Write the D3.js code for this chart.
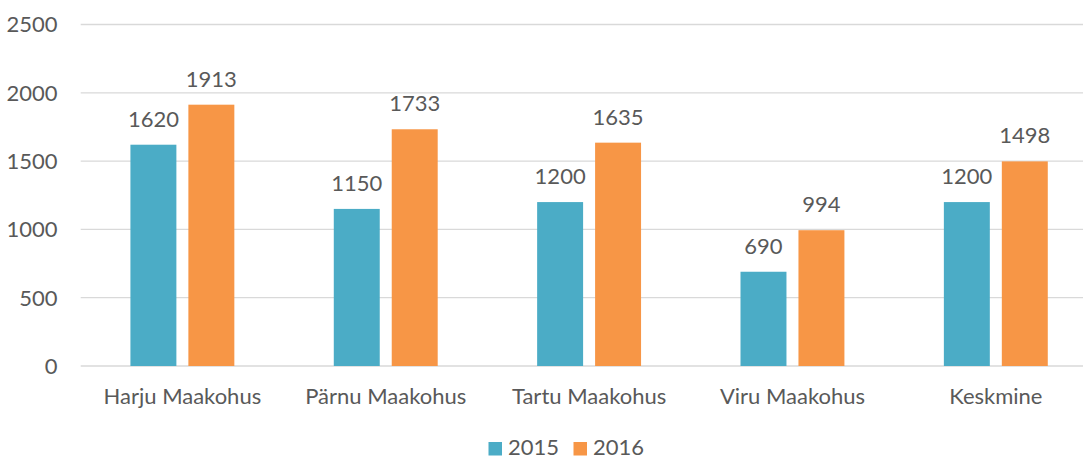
<!DOCTYPE html>
<html>
<head>
<meta charset="utf-8">
<script src="https://cdn.jsdelivr.net/npm/d3@7"></script>
<style>
  html, body { margin: 0; padding: 0; background: #fff; }
  svg { display: block; font-family: Lato, "Open Sans", sans-serif; }
</style>
</head>
<body>
<div id="chart"></div>
<script>
    // data
    var categories = ["Harju Maakohus", "Pärnu Maakohus", "Tartu Maakohus", "Viru Maakohus", "Keskmine"];
    var seriesNames = ["2015", "2016"];
    var values2015 = [1620, 1150, 1200, 690, 1200];
    var values2016 = [1913, 1733, 1635, 994, 1498];
    var yTicks = [0, 500, 1000, 1500, 2000, 2500];
    var colors = ["#4BACC6", "#F79646"];

(function () {
    'use strict';

    var width = 1083, height = 457,
        plotLeft = 80.7, plotRight = 1097.5,
        plotTop = 24.5, plotBottom = 366,
        textColor = '#595959',
        fontSize = 22;

    var rows = categories.map(function (c, i) {
        return { cat: c, vals: [values2015[i], values2016[i]] };
    });

    var svg = d3.select("#chart").append("svg")
        .attr("width", width)
        .attr("height", height);

    var y = d3.scaleLinear()
        .domain([0, 2500])
        .range([plotBottom, plotTop]);

    var x0 = d3.scaleBand()
        .domain(categories)
        .range([plotLeft, plotRight])
        .paddingInner(0.489)
        .paddingOuter(0.2445);

    var x1 = d3.scaleBand()
        .domain(seriesNames)
        .range([0, x0.bandwidth()])
        .paddingInner(0.207);

    // gridlines
    svg.append("g")
        .selectAll("line")
        .data(yTicks)
        .enter().append("line")
        .attr("x1", plotLeft)
        .attr("x2", plotRight)
        .attr("y1", function (d) { return y(d); })
        .attr("y2", function (d) { return y(d); })
        .attr("stroke", "#d9d9d9")
        .attr("stroke-width", 1.3);

    // y labels
    svg.append("g")
        .selectAll("text")
        .data(yTicks)
        .enter().append("text")
        .attr("x", 57.5)
        .attr("y", function (d) { return y(d); })
        .attr("dy", "0.36em")
        .attr("text-anchor", "end")
        .style("font-size", fontSize + "px")
        .style("fill", textColor)
        .text(function (d) { return d; });

    // bars
    var groups = svg.append("g")
        .selectAll("g")
        .data(rows)
        .enter().append("g")
        .attr("transform", function (d) { return "translate(" + x0(d.cat) + ",0)"; });

    groups.selectAll("rect")
        .data(function (d) { return d.vals.map(function (v, i) { return { s: seriesNames[i], v: v, i: i }; }); })
        .enter().append("rect")
        .attr("x", function (d) { return x1(d.s); })
        .attr("width", x1.bandwidth())
        .attr("y", function (d) { return y(d.v); })
        .attr("height", function (d) { return plotBottom - y(d.v); })
        .attr("fill", function (d) { return colors[d.i]; });

    groups.selectAll("text")
        .data(function (d) { return d.vals.map(function (v, i) { return { s: seriesNames[i], v: v }; }); })
        .enter().append("text")
        .attr("x", function (d) { return x1(d.s) + x1.bandwidth() / 2; })
        .attr("y", function (d) { return y(d.v) - 18; })
        .attr("text-anchor", "middle")
        .style("font-size", fontSize + "px")
        .style("fill", textColor)
        .text(function (d) { return d.v; });

    // category labels
    svg.append("g")
        .selectAll("text")
        .data(categories)
        .enter().append("text")
        .attr("x", function (d) { return x0(d) + x0.bandwidth() / 2; })
        .attr("y", 404)
        .attr("text-anchor", "middle")
        .style("font-size", fontSize + "px")
        .style("fill", textColor)
        .text(function (d) { return d; });

    // legend
    var legend = svg.append("g")
        .selectAll("g")
        .data(seriesNames)
        .enter().append("g")
        .attr("transform", function (d, i) { return "translate(" + (488.5 + i * 85) + ",0)"; });

    legend.append("rect")
        .attr("x", 0)
        .attr("y", 442)
        .attr("width", 13.5)
        .attr("height", 13.5)
        .attr("fill", function (d, i) { return colors[i]; });

    legend.append("text")
        .attr("x", 19.5)
        .attr("y", 454.5)
        .style("font-size", fontSize + "px")
        .style("fill", textColor)
        .text(function (d) { return d; });
})();
</script>
</body>
</html>
